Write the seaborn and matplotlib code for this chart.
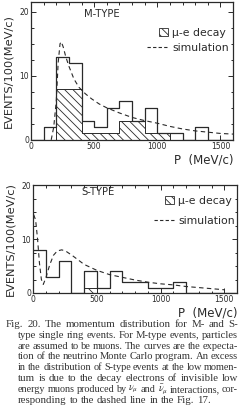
import matplotlib
matplotlib.use("Agg")
import matplotlib.pyplot as plt
import seaborn as sns
import pandas as pd
from matplotlib.patches import Patch, Rectangle
from matplotlib.lines import Line2D
from matplotlib.legend_handler import HandlerPatch
from matplotlib.ticker import MultipleLocator

# momentum bins, 100 MeV/c wide
edges = list(range(0, 1700, 100))
centers = [e + 50 for e in edges[:-1]]

# M-type: all events / mu-e decay events per bin
m_all = [0, 2, 13, 12, 3, 2, 5, 6, 3, 5, 1, 1, 0, 2, 0, 0]
m_mue = [0, 0, 8, 8, 1, 1, 1, 3, 3, 1, 1, 0, 0, 0, 0, 0]
# M-type simulation curve
m_sim_p = [160, 180, 200, 215, 230, 240, 255, 275, 300, 340, 380, 430, 480, 540,
           600, 700, 800, 900, 1000, 1100, 1200, 1300, 1400, 1500, 1600]
m_sim_n = [0, 2, 6, 12, 15.0, 15.3, 14.5, 13, 11.5, 9.5, 8.2, 7.2, 6.4, 5.6,
           5.0, 4.2, 3.5, 3.0, 2.6, 2.1, 1.7, 1.4, 1.2, 1.0, 0.9]

# S-type
s_all = [8, 3, 6, 0, 4, 1, 4, 2, 2, 1, 1, 2, 0, 0, 0, 0]
s_mue = [0, 0, 0, 0, 1, 0, 0, 0, 0, 0, 0, 0, 0, 0, 0, 0]
s_sim_p = [5, 20, 35, 50, 65, 80, 100, 130, 160, 190, 225, 260, 310, 400, 500,
           600, 700, 800, 900, 1000, 1100, 1200, 1300, 1400, 1500]
s_sim_n = [14.5, 13.5, 10, 5.5, 2.5, 1.6, 2.8, 5.2, 7.0, 7.8, 8.0, 7.7, 6.9, 5.3, 4.2,
           3.4, 2.9, 2.4, 2.0, 1.7, 1.5, 1.2, 1.0, 0.8, 0.6]

legend_labels = ["\u03bc-e decay", "simulation"]
xticks = [0, 500, 1000, 1500]
yticks = [0, 10, 20]

caption = [
    "Fig. 20.  The momentum distribution for M- and S-",
    "type single ring events. For M-type events, particles",
    "are assumed to be muons. The curves are the expecta-",
    "tion of the neutrino Monte Carlo program. An excess",
    "in the distribution of S-type events at the low momen-",
    "tum is due to the decay electrons of invisible low",
    r"energy muons produced by $\nu_\mu$ and $\bar{\nu}_\mu$ interactions, cor-",
    "responding to the dashed line in the Fig. 17.",
]

ink = "#2a2a2a"
HATCH = "\\\\\\\\"
W, H = 247, 415

sns.set_theme(style="ticks")
plt.rcParams["font.family"] = ["DejaVu Sans"]
plt.rcParams["mathtext.fontset"] = "stix"
plt.rcParams["hatch.linewidth"] = 0.6
plt.rcParams["hatch.color"] = ink


def small_box(legend, orig_handle, xdescent, ydescent, width, height, fontsize):
    w = height * 1.2
    return Rectangle((width - w - xdescent, -ydescent), w, height)


def draw_panel(ax, counts, mue, sim_p, sim_n, title, title_xy, ymax, leg_anchor, leg_space):
    df = pd.DataFrame({"p": centers, "all": counts, "mue": mue})
    sns.histplot(data=df, x="p", weights="mue", bins=edges, element="step", fill=True,
                 facecolor="white", edgecolor=ink, hatch=HATCH, linewidth=0.7, ax=ax)
    sns.histplot(data=df, x="p", weights="all", bins=edges, element="step", fill=False,
                 color=ink, linewidth=0.9, ax=ax)
    sns.lineplot(x=sim_p, y=sim_n, ax=ax, color=ink, linewidth=0.8,
                 linestyle=(0, (4, 3)), sort=False)
    ax.set_xlim(0, 1600)
    ax.set_ylim(0, ymax)
    ax.set_xticks(xticks)
    ax.set_yticks(yticks)
    ax.xaxis.set_minor_locator(MultipleLocator(100))
    ax.yaxis.set_minor_locator(MultipleLocator(2.5))
    ax.tick_params(which="both", direction="in", top=True, right=True,
                   width=0.7, colors=ink, labelsize=5.5, pad=1.5)
    ax.tick_params(which="major", length=3.5)
    ax.tick_params(which="minor", length=1.8)
    for s in ax.spines.values():
        s.set_linewidth(0.9)
        s.set_color(ink)
    ax.set_xlabel("P  (MeV/c)", loc="right", fontsize=8.5, color=ink, labelpad=1.5)
    ax.set_ylabel("EVENTS/100(MeV/c)", fontsize=8.2, color=ink, labelpad=4)
    ax.text(title_xy[0], title_xy[1], title, transform=ax.transAxes, ha="center",
            va="center", fontsize=7.2, color=ink)
    handles = [Patch(facecolor="white", edgecolor=ink, hatch=HATCH, linewidth=0.6),
               Line2D([], [], color=ink, linewidth=0.8, linestyle=(0, (3, 2)))]
    ax.legend(handles, legend_labels, loc="upper right", bbox_to_anchor=leg_anchor,
              frameon=False, fontsize=7.8, handlelength=1.9, handletextpad=0.4,
              labelspacing=leg_space, borderpad=0, borderaxespad=0,
              labelcolor=ink, handler_map={Patch: HandlerPatch(patch_func=small_box)})


fig = plt.figure(figsize=(W / 100, H / 100), dpi=100)
ax1 = fig.add_axes([0.1255, 0.663, 0.818, 0.332])
ax2 = fig.add_axes([0.134, 0.294, 0.826, 0.260])

draw_panel(ax1, m_all, m_mue, m_sim_p, m_sim_n, "M-TYPE", (0.35, 0.91), 21.5,
           (0.98, 0.815), 0.5)
draw_panel(ax2, s_all, s_mue, s_sim_p, s_sim_n, "S-TYPE", (0.32, 0.935), 17.4,
           (0.99, 0.90), 0.95)

# justified caption; shrink a line a little if its words don't fit
renderer = fig.canvas.get_renderer()
line_y = [324, 335, 346, 356.7, 367.3, 378.3, 389.3, 400]
x_right = 238
min_gap = 2.0
for i, (txt, yy) in enumerate(zip(caption, line_y)):
    x0 = 6 if i == 0 else 18
    words = txt.split()
    arts = [fig.text(0, 1 - yy / H, w, ha="left", va="center", fontsize=7.8,
                     family="Liberation Serif", color="#333333") for w in words]
    widths = [a.get_window_extent(renderer).width for a in arts]
    need = sum(widths) + min_gap * (len(words) - 1)
    if need > x_right - x0:
        fs = 7.8 * (x_right - x0 - min_gap * (len(words) - 1)) / sum(widths)
        for a in arts:
            a.set_fontsize(fs)
        widths = [a.get_window_extent(renderer).width for a in arts]
    if i < len(caption) - 1:
        gap = max(min_gap, (x_right - x0 - sum(widths)) / (len(words) - 1))
    else:
        gap = 2.8
    x = x0
    for a, w in zip(arts, widths):
        a.set_x(x / W)
        x += w + gap

fig.savefig("out.png", dpi=100)
